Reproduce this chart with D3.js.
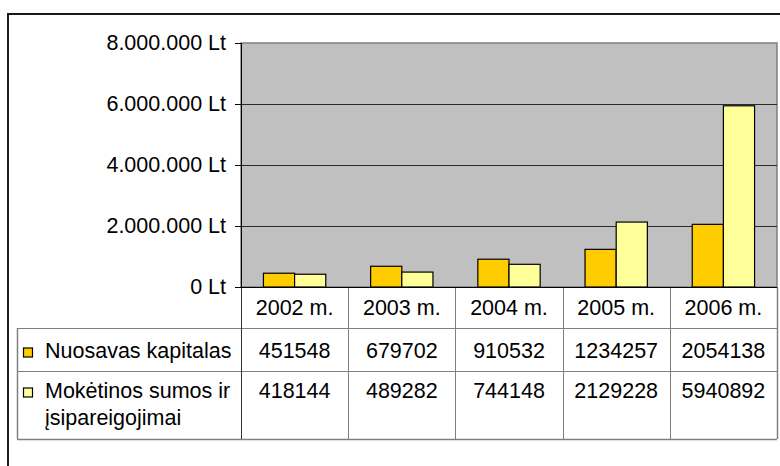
<!DOCTYPE html>
<html>
<head>
<meta charset="utf-8">
<script src="https://cdn.jsdelivr.net/npm/d3@7"></script>
<style>
  body { margin: 0; background: #fff; }
  svg { display: block; font-family: "Liberation Sans", Arial, sans-serif; }
</style>
</head>
<body>
<div id="chart"></div>
<script>
// chart data
const years = ["2002 m.", "2003 m.", "2004 m.", "2005 m.", "2006 m."];
const seriesKeys = ["equity", "liabilities"];
const seriesLabels = [["Nuosavas kapitalas"], ["Mokėtinos sumos ir", "įsipareigojimai"]];
const seriesColors = ["#FFCC00", "#FFFF99"];
const equity = [451548, 679702, 910532, 1234257, 2054138];
const liabilities = [418144, 489282, 744148, 2129228, 5940892];
const yTicks = [0, 2000000, 4000000, 6000000, 8000000];

const W = 780, H = 466;
const fontSize = 21.5;

const svg = d3.select("#chart").append("svg")
    .attr("width", W)
    .attr("height", H);

// outer frame (runs off the right/bottom of the picture)
svg.append("rect")
    .attr("x", 8).attr("y", 14)
    .attr("width", 800).attr("height", 500)
    .attr("fill", "#fff")
    .attr("stroke", "#1a1a1a")
    .attr("stroke-width", 2);

const plot = {left: 241, right: 777, top: 43, bottom: 287};
const rows = [287, 328, 371, 439];   // table row edges
const tableLeft = 17;

const values = {equity: equity, liabilities: liabilities};
const data = years.map((y, i) => ({year: y, equity: equity[i], liabilities: liabilities[i]}));

const x0 = d3.scaleBand().domain(years).range([plot.left, plot.right]);
const x1 = d3.scaleBand().domain(seriesKeys).range([0, x0.bandwidth()])
    .paddingInner(0).paddingOuter(0.72);
const y = d3.scaleLinear().domain([0, 8000000]).range([plot.bottom, plot.top]);

const locale = d3.formatLocale({decimal: ",", thousands: ".", grouping: [3], currency: ["", ""]});
const fmt = locale.format(",d");

// plot area
svg.append("rect")
    .attr("x", plot.left).attr("y", plot.top)
    .attr("width", plot.right - plot.left).attr("height", plot.bottom - plot.top)
    .attr("fill", "#C0C0C0")
    .attr("stroke", "#808080")
    .attr("stroke-width", 1.5);

// gridlines
svg.append("g")
  .selectAll("line")
  .data(yTicks.filter(d => d > 0 && d < 8000000))
  .join("line")
    .attr("x1", plot.left).attr("x2", plot.right)
    .attr("y1", d => y(d) + 0.5).attr("y2", d => y(d) + 0.5)
    .attr("stroke", "#2a2a2a")
    .attr("stroke-width", 1);

// bars
svg.append("g")
  .selectAll("g")
  .data(data)
  .join("g")
    .attr("transform", d => `translate(${x0(d.year)},0)`)
  .selectAll("rect")
  .data(d => seriesKeys.map((k, i) => ({key: k, value: d[k], i: i})))
  .join("rect")
    .attr("x", d => x1(d.key))
    .attr("y", d => y(d.value))
    .attr("width", x1.bandwidth())
    .attr("height", d => y(0) - y(d.value))
    .attr("fill", d => seriesColors[d.i])
    .attr("stroke", "#000")
    .attr("stroke-width", 1.2);

// y axis
const yAxis = d3.axisLeft(y)
    .tickValues(yTicks)
    .tickSize(6)
    .tickPadding(9)
    .tickFormat(d => fmt(d) + " Lt");

svg.append("g")
    .attr("transform", `translate(${plot.left},0)`)
    .call(yAxis)
    .call(g => g.select(".domain").remove())
    .call(g => g.selectAll(".tick line").attr("stroke", "#000"))
    .call(g => g.selectAll(".tick text")
        .attr("fill", "#000")
        .attr("font-size", fontSize)
        .attr("font-family", "Liberation Sans, Arial, sans-serif"));

// data table
const table = svg.append("g");

// horizontal rules
table.append("line")
    .attr("x1", tableLeft).attr("x2", plot.right)
    .attr("y1", rows[1] + 0.5).attr("y2", rows[1] + 0.5)
    .attr("stroke", "#808080");
table.append("line")
    .attr("x1", tableLeft).attr("x2", plot.right)
    .attr("y1", rows[2] + 0.5).attr("y2", rows[2] + 0.5)
    .attr("stroke", "#808080");
table.append("line")
    .attr("x1", tableLeft).attr("x2", plot.right)
    .attr("y1", rows[3] + 0.5).attr("y2", rows[3] + 0.5)
    .attr("stroke", "#808080").attr("stroke-width", 1.5);
table.append("line")
    .attr("x1", tableLeft + 0.5).attr("x2", tableLeft + 0.5)
    .attr("y1", rows[1]).attr("y2", rows[3])
    .attr("stroke", "#808080").attr("stroke-width", 1.5);

// vertical rules between categories
table.selectAll(".vrule")
  .data(years.map(d => x0(d)).concat([plot.right]))
  .join("line")
    .attr("x1", d => Math.round(d) + 0.5).attr("x2", d => Math.round(d) + 0.5)
    .attr("y1", rows[0]).attr("y2", rows[3])
    .attr("stroke", (d, i) => i === 0 ? "#333" : "#808080")
    .attr("stroke-width", (d, i) => i === years.length ? 1.5 : 1);

// x axis line
svg.append("line")
    .attr("x1", plot.left - 6).attr("x2", plot.right)
    .attr("y1", plot.bottom + 0.5).attr("y2", plot.bottom + 0.5)
    .attr("stroke", "#000");
svg.append("line")
    .attr("x1", plot.left + 0.5).attr("x2", plot.left + 0.5)
    .attr("y1", plot.top).attr("y2", plot.bottom)
    .attr("stroke", "#000");

// header labels
table.selectAll(".year")
  .data(years)
  .join("text")
    .attr("x", d => x0(d) + x0.bandwidth() / 2)
    .attr("y", 315)
    .attr("text-anchor", "middle")
    .attr("font-size", fontSize)
    .text(d => d);

// value rows
const rowBase = [358, 398];
seriesKeys.forEach((k, si) => {
  table.selectAll(".v" + si)
    .data(values[k])
    .join("text")
      .attr("x", (d, i) => x0(years[i]) + x0.bandwidth() / 2)
      .attr("y", rowBase[si])
      .attr("text-anchor", "middle")
      .attr("font-size", fontSize)
      .text(d => d);

  // legend key
  table.append("rect")
      .attr("x", 23.5).attr("y", rowBase[si] - 10)
      .attr("width", 9).attr("height", 9)
      .attr("fill", seriesColors[si])
      .attr("stroke", "#000")
      .attr("stroke-width", 1.2);

  const t = table.append("text")
      .attr("x", 45)
      .attr("y", rowBase[si])
      .attr("font-size", fontSize);
  t.selectAll("tspan")
    .data(seriesLabels[si])
    .join("tspan")
      .attr("x", 45)
      .attr("dy", (d, i) => i === 0 ? 0 : 27)
      .text(d => d);
});
</script>
</body>
</html>
